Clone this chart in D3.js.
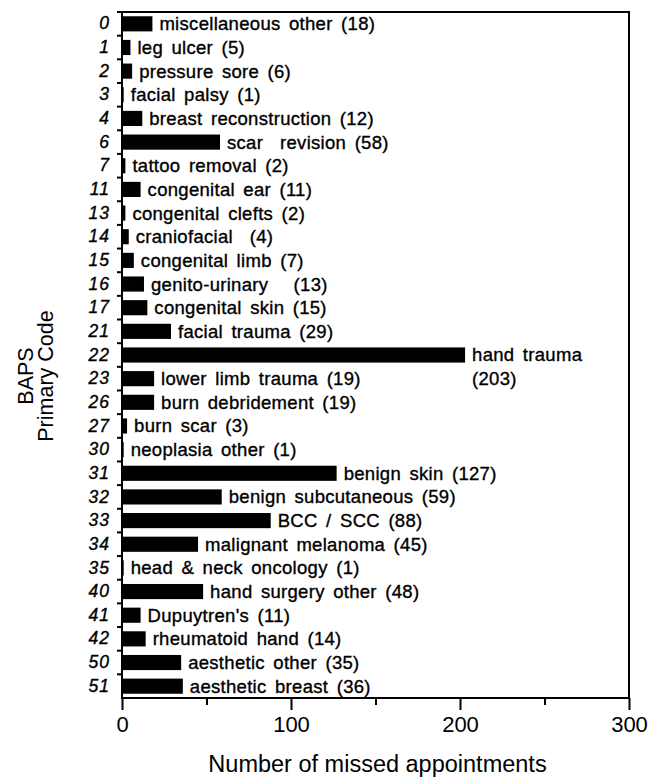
<!DOCTYPE html>
<html><head><meta charset="utf-8">
<script src="https://cdn.jsdelivr.net/npm/d3@7"></script>
<style>
html,body{margin:0;padding:0;background:#fff;}
svg{display:block;}
text{font-family:"Liberation Sans",Arial,Helvetica,sans-serif;fill:#000;}
.blab{stroke:#000;stroke-width:0.35px;letter-spacing:0.3px;word-spacing:3px;white-space:pre;}
</style></head>
<body>
<svg id="chart" width="658" height="778"></svg>
<script>
const codes = ["0","1","2","3","4","6","7","11","13","14","15","16","17","21","22","23","26","27","30","31","32","33","34","35","40","41","42","50","51"];
const names = ["miscellaneous other","leg ulcer","pressure sore","facial palsy","breast reconstruction","scar  revision","tattoo removal","congenital ear","congenital clefts","craniofacial ","congenital limb","genito-urinary  ","congenital skin","facial trauma","hand trauma","lower limb trauma","burn debridement","burn scar","neoplasia other","benign skin","benign subcutaneous","BCC / SCC","malignant melanoma","head & neck oncology","hand surgery other","Dupuytren's","rheumatoid hand","aesthetic other","aesthetic breast"];
const values = [18,5,6,1,12,58,2,11,2,4,7,13,15,29,203,19,19,3,1,127,59,88,45,1,48,11,14,35,36];
const xTicks = [0,100,200,300];
const xMinor = [50,150,250];

const svg = d3.select("#chart");
const mLeft = 122, mRight = 629, mTop = 12, mBottom = 698;

const x = d3.scaleLinear().domain([0,300]).range([mLeft,mRight]);
const y = d3.scaleBand().domain(codes).range([mTop,mBottom]).paddingInner(0.36).paddingOuter(0.18);
const step = (mBottom-mTop)/codes.length;

const data = codes.map((c,i)=>({code:c,name:names[i],value:values[i]}));

// bars
svg.append("g").selectAll("rect").data(data).join("rect")
  .attr("x", x(0))
  .attr("y", d=>y(d.code))
  .attr("width", d=>x(d.value)-x(0))
  .attr("height", y.bandwidth())
  .attr("fill","#000");

// bar labels
svg.append("g").selectAll("text").data(data).join("text")
  .attr("class","blab")
  .attr("x", d=>x(d.value)+7)
  .attr("y", d=>y(d.code)+y.bandwidth()/2)
  .attr("dy","0.35em")
  .style("font-size","18.5px")
  .text(d=> d.value>150 ? d.name : d.name+" ("+d.value+")");
data.filter(d=>d.value>150).forEach(d=>{
  svg.append("text").attr("class","blab")
    .attr("x", x(d.value)+7)
    .attr("y", y(d.code)+y.bandwidth()/2+step)
    .attr("dy","0.35em")
    .style("font-size","18.5px")
    .text("("+d.value+")");
});

// frame (top and right)
svg.append("line").attr("x1",mLeft-1).attr("x2",mRight+1).attr("y1",mTop).attr("y2",mTop).attr("stroke","#000").attr("stroke-width",2);
svg.append("line").attr("x1",mRight).attr("x2",mRight).attr("y1",mTop).attr("y2",mBottom).attr("stroke","#000").attr("stroke-width",2);

// x axis
const xAxis = d3.axisBottom(x).tickValues(xTicks).tickSize(12).tickPadding(6).tickFormat(d3.format("d"));
const gx = svg.append("g").attr("transform",`translate(0,${mBottom})`).call(xAxis);
gx.attr("font-family",null).attr("font-size",null);
gx.select(".domain").attr("stroke-width",2).attr("d",`M${mLeft-1},0H${mRight+1}`);
gx.selectAll(".tick line").attr("stroke-width",2);
gx.selectAll(".tick text").style("font-size","22px");
const xAxisMinor = d3.axisBottom(x).tickValues(xMinor).tickSize(7).tickFormat("");
const gm = svg.append("g").attr("transform",`translate(0,${mBottom})`).call(xAxisMinor);
gm.select(".domain").remove();
gm.selectAll(".tick line").attr("stroke-width",2);

// y axis
const yAxis = d3.axisLeft(y).tickSize(0).tickPadding(12);
const gy = svg.append("g").attr("transform",`translate(${mLeft},0)`).call(yAxis);
gy.attr("font-family",null).attr("font-size",null);
gy.select(".domain").attr("stroke-width",2).attr("d",`M0,${mTop-1}V${mBottom+1}`);
gy.selectAll(".tick text").style("font-size","17.5px").style("font-style","italic")
  .style("stroke","#000").style("stroke-width","0.35px").style("letter-spacing","1px");
const bounds = d3.range(codes.length).map(i=>mTop+i*step);
svg.append("g").selectAll("line").data(bounds).join("line")
  .attr("x1",mLeft-5).attr("x2",mLeft).attr("y1",d=>d).attr("y2",d=>d)
  .attr("stroke","#000").attr("stroke-width",2);

// axis titles
svg.append("text").attr("x",(mLeft+mRight)/2+2).attr("y",772).attr("text-anchor","middle")
  .style("font-size","23.5px").text("Number of missed appointments");
const yt = svg.append("text").attr("transform","translate(0,376) rotate(-90)").attr("text-anchor","middle").style("font-size","21.5px");
yt.append("tspan").attr("x",0).attr("y",33).text("BAPS");
yt.append("tspan").attr("x",0).attr("y",53).text("Primary Code");
</script>
</body></html>
